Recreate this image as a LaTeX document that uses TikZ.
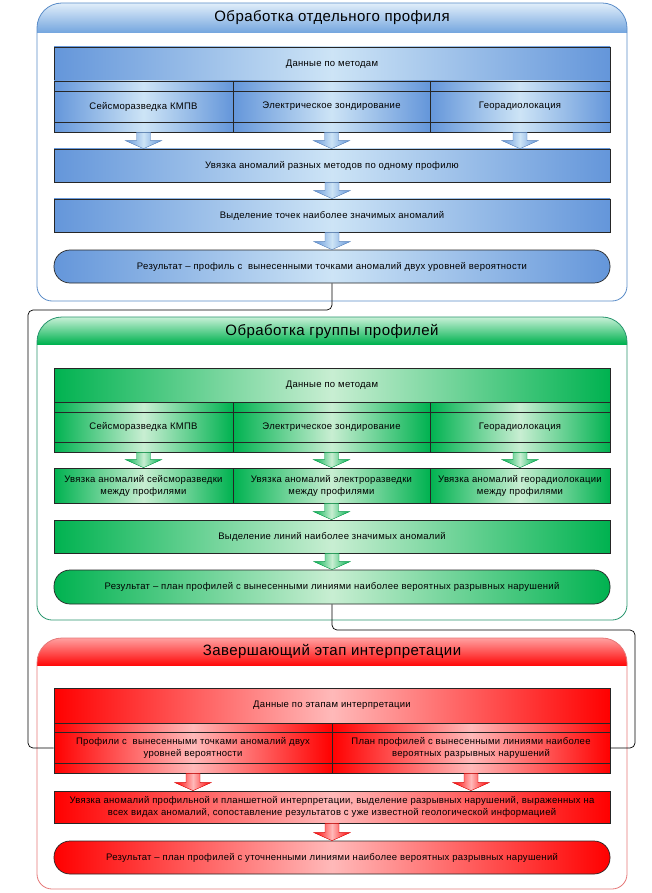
\documentclass[tikz,border=0pt]{standalone}
\usepackage{fontspec}
\setmainfont{Liberation Sans}[LetterSpace=3]
\usetikzlibrary{calc}
\definecolor{bD}{RGB}{100,150,218}
\definecolor{bL}{RGB}{205,228,246}
\definecolor{bHt}{RGB}{225,238,250}
\definecolor{bHb}{RGB}{115,165,222}
\definecolor{bB}{RGB}{90,140,200}
\definecolor{gD}{RGB}{0,178,80}
\definecolor{gL}{RGB}{200,238,210}
\definecolor{gHt}{RGB}{200,240,215}
\definecolor{gHb}{RGB}{0,178,80}
\definecolor{gB}{RGB}{40,150,110}
\definecolor{rD}{RGB}{255,0,0}
\definecolor{rL}{RGB}{255,185,185}
\definecolor{rHt}{RGB}{255,160,160}
\definecolor{rHb}{RGB}{255,10,10}
\definecolor{rB}{RGB}{230,120,120}
\tikzset{
  cell/.style={draw=black!85, line width=0.7pt, inner sep=0pt, align=center,
    font=\fontsize{9.5}{12}\selectfont},
  bcell/.style={cell, left color=bD, right color=bD, middle color=bL},
  gcell/.style={cell, left color=gD, right color=gD, middle color=gL},
  rcell/.style={cell, left color=rD, right color=rD, middle color=rL},
  res/.style={rounded corners=16pt},
  ttl/.style={font=\fontsize{15}{18}\selectfont, inner sep=0pt},
  conn/.style={draw=black, line width=0.7pt, rounded corners=5pt},
  sep/.style={draw=black!85, line width=0.7pt},
}
\newcommand\cpath[2]{(37,{(#1+#2)/2}) [rounded corners=15pt] -- (37,#2) -- (627,#2) -- (627,{(#1+#2)/2}) [rounded corners=25pt] -- (627,#1) -- (37,#1) -- cycle}
\newcommand\barrow[4]{%
  \path[left color=#3, right color=#3, middle color=#4, draw=#3!85!black, line width=0.4pt]
    let \p1=(#1), \p2=(#2) in
    (\x1-7pt,\y1) -- (\x1+7pt,\y1) -- (\x1+7pt,\y2+8pt) -- (\x1+18pt,\y2+8pt) -- (\x1,\y2)
    -- (\x1-18pt,\y2+8pt) -- (\x1-7pt,\y2+8pt) -- cycle;}
\begin{document}
\begin{tikzpicture}[x=1pt,y=-1pt]
\useasboundingbox (0,0) rectangle (652,893);
\fill[white] (0,0) rectangle (652,893);

% ---------- blue container ----------
\begin{scope}\clip \cpath{3}{301}; \shade[top color=bHt, bottom color=bHb] (37,3) rectangle (627,33); \end{scope}
\draw[bB, line width=0.8pt] \cpath{3}{301};
\node[ttl] (btitle) at (332,18) {Обработка отдельного профиля};

\node[bcell, minimum width=556, minimum height=34] (bhead) at (332,64) {Данные по методам};
\node[bcell, minimum width=179, minimum height=51] (bc1) at (143.5,106.5) {Сейсморазведка КМПВ};
\node[bcell, minimum width=197, minimum height=51] (bc2) at (331.5,106.5) {Электрическое зондирование};
\node[bcell, minimum width=180, minimum height=51] (bc3) at (520,106.5) {Георадиолокация};
\draw[sep] (54,91) -- (610,91) (54,122) -- (610,122);
\node[bcell, minimum width=556, minimum height=33] (bbox1) at (332,165.5) {Увязка аномалий разных методов по одному профилю};
\node[bcell, minimum width=556, minimum height=33] (bbox2) at (332,215.5) {Выделение точек наиболее значимых аномалий};
\node[bcell, res, minimum width=556, minimum height=33] (bres) at (332,266.5) {Результат – профиль с \ вынесенными точками аномалий двух уровней вероятности};
\barrow{bc1.south}{bbox1.north}{bD}{bL}
\barrow{bc2.south}{bbox1.north}{bD}{bL}
\barrow{bc3.south}{bbox1.north}{bD}{bL}
\barrow{bbox1.south}{bbox2.north}{bD}{bL}
\barrow{bbox2.south}{bres.north}{bD}{bL}

% ---------- green container ----------
\begin{scope}\clip \cpath{317}{620}; \shade[top color=gHt, bottom color=gHb] (37,317) rectangle (627,344); \end{scope}
\draw[gB, line width=0.8pt] \cpath{317}{620};
\node[ttl] (gtitle) at (332,331) {Обработка группы профилей};

\node[gcell, minimum width=556, minimum height=34] (ghead) at (332,385) {Данные по методам};
\node[gcell, minimum width=179, minimum height=50] (gc1) at (143.5,427) {Сейсморазведка КМПВ};
\node[gcell, minimum width=197, minimum height=50] (gc2) at (331.5,427) {Электрическое зондирование};
\node[gcell, minimum width=180, minimum height=50] (gc3) at (520,427) {Георадиолокация};
\draw[sep] (54,412) -- (610,412) (54,442) -- (610,442);
\node[gcell, minimum width=179, minimum height=35] (gu1) at (143.5,485.5) {Увязка аномалий сейсморазведки\\между профилями};
\node[gcell, minimum width=197, minimum height=35] (gu2) at (331.5,485.5) {Увязка аномалий электроразведки\\между профилями};
\node[gcell, minimum width=180, minimum height=35] (gu3) at (520,485.5) {Увязка аномалий георадиолокации\\между профилями};
\node[gcell, minimum width=556, minimum height=33] (gbox) at (332,536.5) {Выделение линий наиболее значимых аномалий};
\node[gcell, res, minimum width=556, minimum height=34] (gres) at (332,587) {Результат – план профилей с вынесенными линиями наиболее вероятных разрывных нарушений};
\barrow{gc1.south}{gu1.north}{gD}{gL}
\barrow{gc2.south}{gu2.north}{gD}{gL}
\barrow{gc3.south}{gu3.north}{gD}{gL}
\barrow{gu2.south}{gbox.north}{gD}{gL}
\barrow{gbox.south}{gres.north}{gD}{gL}

% ---------- red container ----------
\begin{scope}\clip \cpath{638}{889}; \shade[top color=rHt, bottom color=rHb] (37,638) rectangle (627,665); \end{scope}
\draw[rB, line width=0.8pt] \cpath{638}{889};
\node[ttl] (rtitle) at (332,651) {Завершающий этап интерпретации};

\node[rcell, minimum width=556, minimum height=35] (rhead) at (332,705.5) {Данные по этапам интерпретации};
\node[rcell, minimum width=278, minimum height=50] (rc1) at (193,748) {Профили с \ вынесенными точками аномалий двух\\уровней вероятности};
\node[rcell, minimum width=278, minimum height=50] (rc2) at (471,748) {План профилей с вынесенными линиями наиболее\\вероятных разрывных нарушений};
\draw[sep] (54,732) -- (610,732) (54,763) -- (610,763);
\node[rcell, minimum width=556, minimum height=32] (rbox) at (332,807) {Увязка аномалий профильной и планшетной интерпретации, выделение разрывных нарушений, выраженных на\\всех видах аномалий, сопоставление результатов с уже известной геологической информацией};
\node[rcell, res, minimum width=556, minimum height=33] (rres) at (332,857.5) {Результат – план профилей с уточненными линиями наиболее вероятных разрывных нарушений};
\barrow{rc1.south}{rbox.north}{rD}{rL}
\barrow{rc2.south}{rbox.north}{rD}{rL}
\barrow{rbox.south}{rres.north}{rD}{rL}

% ---------- connectors ----------
\coordinate (cl) at (28,310);
\coordinate (cr) at (635,630);
\draw[conn] (bres.south) |- (cl) |- (rc1.west);
\draw[conn] (gres.south) |- (cr) |- (rc2.east);
\end{tikzpicture}
\end{document}
